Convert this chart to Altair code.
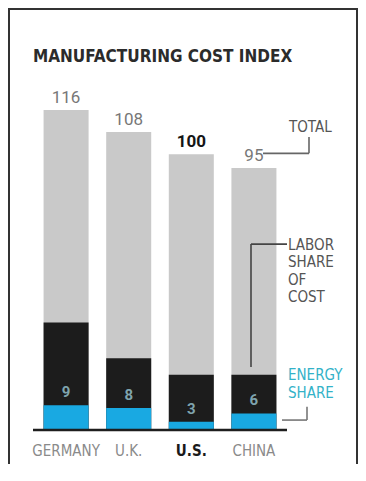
import altair as alt
import pandas as pd

# ---- data ----
countries = ["GERMANY", "U.K.", "U.S.", "CHINA"]
total_index = [116, 108, 100, 95]
labor_share = [30, 18, 17, 14]
energy_share = [9, 8, 3, 6]
is_base = [False, False, True, False]

title_text = "MANUFACTURING COST INDEX"
ann_total = "TOTAL"
ann_labor = "LABOR\nSHARE\nOF\nCOST"
ann_energy = "ENERGY\nSHARE"

df = pd.DataFrame({
    "country": countries,
    "total": total_index,
    "labor": labor_share,
    "energy": energy_share,
    "base": is_base,
})
df["labor_top"] = df["energy"] + df["labor"]
one = pd.DataFrame({"k": [0]})

NARROW = "'DejaVu Sans Condensed', 'Liberation Sans Narrow', Roboto"
NUM = "Roboto"

W, H = 254, 331
xenc = alt.X("country:N", sort=countries, axis=None,
             scale=alt.Scale(paddingInner=0.281, paddingOuter=0.169))
ysc = alt.Scale(domain=[0, 120])

base = alt.Chart(df)

gray = base.mark_bar(color="#c9c9c9").encode(
    x=xenc, y=alt.Y("total:Q", scale=ysc, axis=None, stack=None))
black = base.mark_bar(color="#1c1c1c").encode(
    x=xenc, y=alt.Y("labor_top:Q", scale=ysc, axis=None, stack=None))
blue = base.mark_bar(color="#19a9e2").encode(
    x=xenc, y=alt.Y("energy:Q", scale=ysc, axis=None, stack=None))

top_lab = base.transform_filter("!datum.base").mark_text(
    font=NUM, fontSize=17, color="#777777", baseline="alphabetic", dy=-7
).encode(x=xenc, y=alt.Y("total:Q", scale=ysc), text="total:Q")
top_lab_b = base.transform_filter("datum.base").mark_text(
    font=NUM, fontSize=17, fontWeight="bold", color="#151515", baseline="alphabetic", dy=-7
).encode(x=xenc, y=alt.Y("total:Q", scale=ysc), text="total:Q")

energy_lab = base.mark_text(
    font=NUM, fontSize=15, fontWeight="bold", color="#7fa4ae", baseline="middle", dy=-13
).encode(x=xenc, y=alt.Y("energy:Q", scale=ysc), text="energy:Q")

ctry = base.transform_filter("!datum.base").mark_text(
    font=NARROW, fontSize=15, color="#8a8a8a", baseline="middle", dy=21
).encode(x=xenc, y=alt.datum(0), text="country:N")
ctry_b = base.transform_filter("datum.base").mark_text(
    font=NARROW, fontSize=15, fontWeight="bold", color="#1a1a1a", baseline="middle", dy=21
).encode(x=xenc, y=alt.datum(0), text="country:N")

baseline_rule = alt.Chart(one).mark_rule(color="#1e1e1e", strokeWidth=2.5).encode(
    y=alt.datum(0))

ann = alt.Chart(one)
title = ann.mark_text(font=NARROW, fontSize=17, fontWeight="bold", color="#2b2b2b",
                      align="left", baseline="alphabetic").encode(
    x=alt.value(0), y=alt.value(-37), text=alt.value(title_text))

t_total = ann.mark_text(font=NARROW, fontSize=15, color="#555555", align="left",
                        baseline="alphabetic").encode(
    x=alt.value(256), y=alt.datum(108.0), text=alt.value(ann_total))
t_labor = ann.mark_text(font=NARROW, fontSize=15, color="#555555", align="left",
                        baseline="alphabetic", lineBreak="\n", lineHeight=17.5).encode(
    x=alt.value(255), y=alt.datum(65.3), text=alt.value(ann_labor))
t_energy = ann.mark_text(font=NARROW, fontSize=15, color="#33b2c8", align="left",
                         baseline="alphabetic", lineBreak="\n", lineHeight=17.5).encode(
    x=alt.value(255), y=alt.datum(18.1), text=alt.value(ann_energy))

def hline(x1, x2, yv, color, w=1.6):
    return ann.mark_rule(color=color, strokeWidth=w).encode(
        x=alt.value(x1), x2=alt.value(x2), y=alt.datum(yv))

def vline(xv, y1, y2, color, w=1.6):
    return ann.mark_rule(color=color, strokeWidth=w).encode(
        x=alt.value(xv), y=alt.datum(y1), y2=alt.datum(y2))

conn = [
    hline(230, 276, 100.3, "#666666"), vline(276, 106.2, 100.3, "#666666"),
    hline(218, 254, 67.4, "#444444"), vline(218, 67.4, 22.8, "#444444"),
    hline(249, 274, 3.6, "#777777"), vline(274, 8.4, 3.6, "#777777"),
]

# decorative frame (open at the bottom, as in the reference)
FR = dict(color="#333333", strokeWidth=2)
frame = [
    ann.mark_rule(**FR).encode(x=alt.value(-24), x2=alt.value(324), y=alt.value(-90)),
    ann.mark_rule(**FR).encode(x=alt.value(-24), y=alt.value(-91), y2=alt.value(365)),
    ann.mark_rule(**FR).encode(x=alt.value(324), y=alt.value(-91), y2=alt.value(365)),
]

chart = alt.layer(
    gray, black, blue, baseline_rule, top_lab, top_lab_b, energy_lab, ctry, ctry_b,
    title, t_total, t_labor, t_energy, *conn, *frame
).properties(
    width=W, height=H,
    autosize=alt.AutoSizeParams(type="none"),
    padding={"left": 25, "top": 91, "right": 71, "bottom": 34},
    background="white",
).configure_view(stroke=None)

chart.save("out.html", embed_options={"renderer": "svg", "actions": False})
